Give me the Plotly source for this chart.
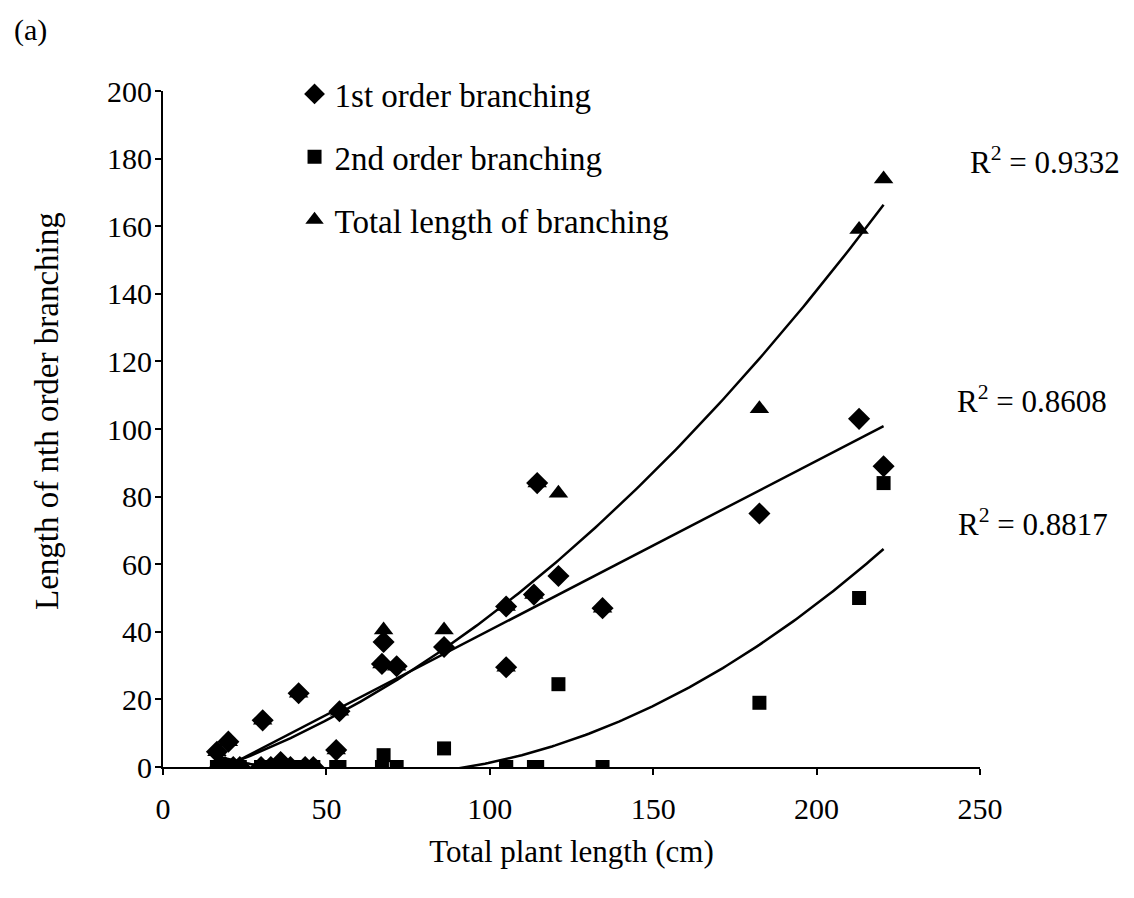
import numpy as np
import plotly.graph_objects as go

# Total plant length (cm) for each sampled plant
plant_length = [16.5, 17.5, 19.0, 20.0, 21.5, 23.5, 30.5, 30.0, 33.0, 36.0,
                39.0, 41.5, 43.5, 46.0, 53.0, 54.0, 67.5, 67.0, 71.5, 86.0,
                105.0, 105.0, 113.5, 114.5, 121.0, 134.5, 182.5, 213.0, 220.5]

# Length of branching per plant (cm)
first_order = [4.5, 0.0, 0.0, 7.5, 0.0, 0.0, 13.8, 0.0, 0.0, 1.5,
               0.0, 21.8, 0.0, 0.0, 5.0, 16.5, 37.0, 30.5, 29.8, 35.5,
               47.5, 29.5, 51.0, 84.0, 56.5, 47.0, 75.0, 103.0, 89.0]
second_order = [0.0, 0.0, 0.0, 0.0, 0.0, 0.0, 0.0, 0.0, 0.0, 0.0,
                0.0, 0.0, 0.0, 0.0, 0.0, 0.0, 3.5, 0.0, 0.0, 5.5,
                0.0, 0.0, 0.0, 0.0, 24.5, 0.0, 19.0, 50.0, 84.0]
total_branching = [4.5, 0.0, 0.0, 7.5, 0.0, 0.0, 13.8, 0.0, 0.0, 2.0,
                   0.0, 21.8, 0.0, 0.0, 5.0, 16.5, 40.5, 30.5, 29.8, 40.5,
                   47.5, 29.5, 51.0, 84.0, 81.0, 47.0, 106.0, 159.0, 174.0]

r2_labels = ["0.9332", "0.8608", "0.8817"]
x_ticks = [0, 50, 100, 150, 200, 250]
y_ticks = [0, 20, 40, 60, 80, 100, 120, 140, 160, 180, 200]

FONT = "Liberation Serif"

# plot area in page pixels
L, R, T, B = 163, 980, 91, 767


def px_x(px):
    return (px - L) / (R - L)


def px_y(py):
    return (B - py) / (B - T)


x = np.array(plant_length)
xs = np.linspace(x.min(), x.max(), 200)


def trend(y, degree):
    coef = np.polyfit(x, np.array(y), degree)
    return np.polyval(coef, xs)


fig = go.Figure()

# fitted trendlines: linear for 1st order, quadratic for 2nd order and total
for y, deg in [(total_branching, 2), (first_order, 1), (second_order, 2)]:
    fig.add_trace(go.Scatter(x=xs, y=trend(y, deg), mode="lines",
                             line=dict(color="black", width=2.5),
                             showlegend=False, hoverinfo="skip"))

series = [
    ("1st order branching", first_order, "diamond", 17),
    ("2nd order branching", second_order, "square", 14),
    ("Total length of branching", total_branching, "triangle-up", 17),
]
for i, (name, y, sym, size) in enumerate(series):
    fig.add_trace(go.Scatter(
        x=plant_length, y=y, mode="markers", name=name,
        legendgroup=f"g{i}",
        marker=dict(symbol=sym, size=size, color="black",
                    line=dict(width=0)),
    ))

axis_common = dict(showgrid=False, zeroline=False, showline=True,
                   linecolor="black", linewidth=2, ticks="outside",
                   ticklen=6, tickwidth=2, tickcolor="black",
                   tickfont=dict(family=FONT, size=30, color="black"))

fig.update_layout(
    width=1134, height=898,
    paper_bgcolor="white", plot_bgcolor="white",
    margin=dict(l=L, r=1134 - R, t=T, b=898 - B),
    font=dict(family=FONT, size=30, color="black"),
    showlegend=True,
    legend=dict(x=0.161, y=1.037, xanchor="left", yanchor="top",
                bgcolor="rgba(0,0,0,0)", tracegroupgap=17,
                font=dict(family=FONT, size=33, color="black"),
                itemsizing="trace"),
    xaxis=dict(range=[0, 250], tickvals=x_ticks, ticklabelstandoff=8,
               title=dict(text="Total plant length (cm)",
                          font=dict(family=FONT, size=31, color="black"),
                          standoff=16),
               **axis_common),
    yaxis=dict(range=[0, 200], tickvals=y_ticks, ticklabelstandoff=-3,
               **axis_common),
)

fig.add_annotation(xref="paper", yref="paper", showarrow=False,
                   x=px_x(12), y=px_y(30), xanchor="left", yanchor="middle",
                   text="(a)", font=dict(family=FONT, size=30, color="black"))
fig.add_annotation(xref="paper", yref="paper", showarrow=False,
                   x=px_x(47), y=px_y(411), xanchor="center",
                   yanchor="middle", textangle=-90,
                   text="Length of nth order branching",
                   font=dict(family=FONT, size=33, color="black"))

# coefficient of determination for each fitted line
for label, px, py in zip(r2_labels, [968, 955, 956], [160, 399, 522]):
    fig.add_annotation(xref="paper", yref="paper", showarrow=False,
                       x=px_x(px), y=px_y(py),
                       xanchor="left", yanchor="middle",
                       text=f"R<sup>2</sup> = {label}",
                       font=dict(family=FONT, size=31, color="black"))

fig.write_html("out.html")
